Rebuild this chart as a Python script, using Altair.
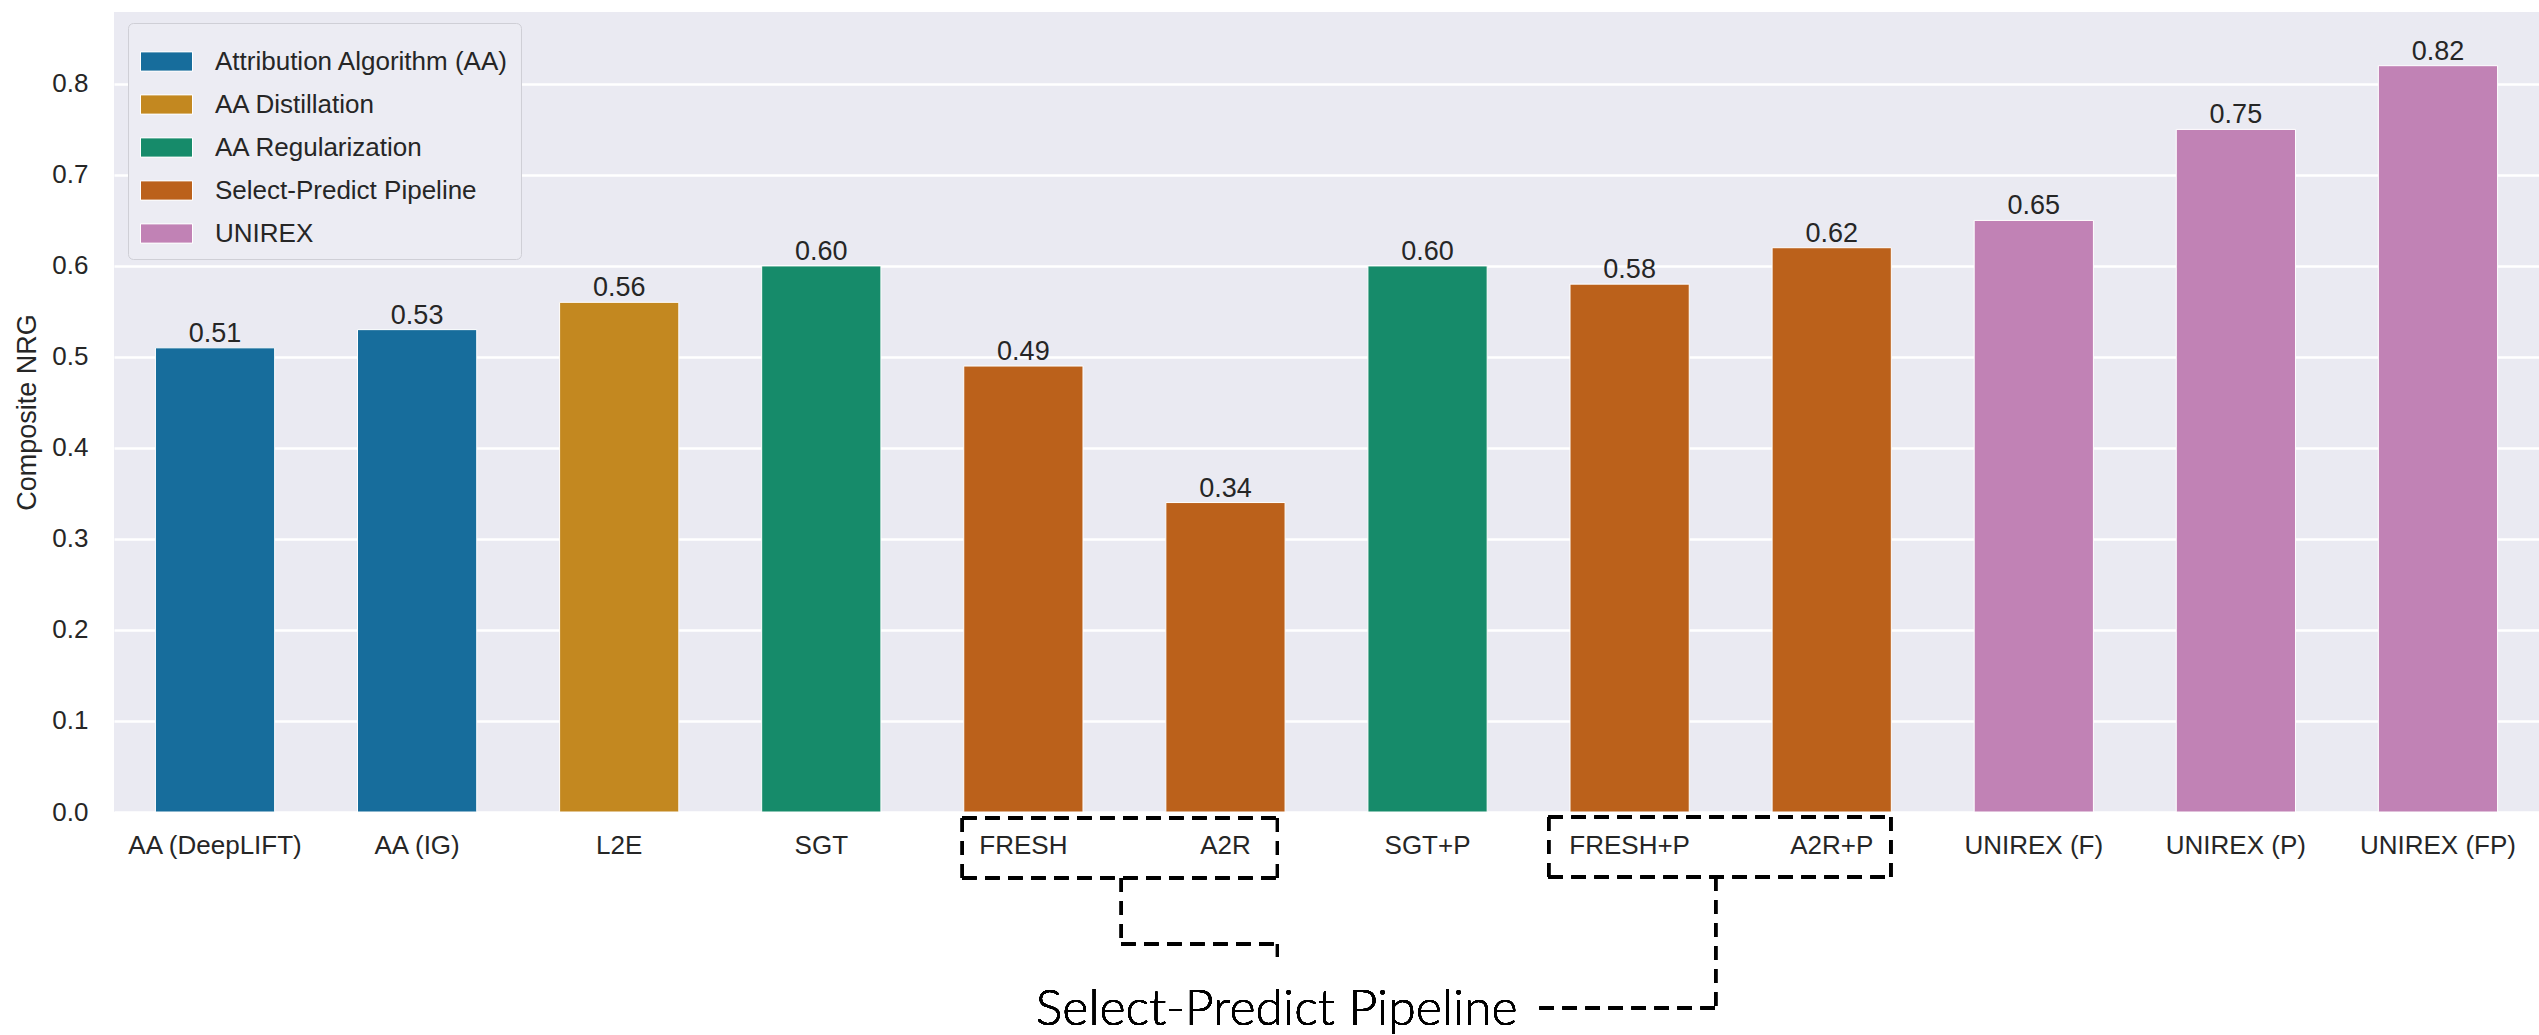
import altair as alt
import pandas as pd

# Composite NRG per rationale-extraction method
methods = [
    "AA (DeepLIFT)", "AA (IG)", "L2E", "SGT", "FRESH", "A2R",
    "SGT+P", "FRESH+P", "A2R+P", "UNIREX (F)", "UNIREX (P)", "UNIREX (FP)",
]
groups = [
    "Attribution Algorithm (AA)", "Attribution Algorithm (AA)",
    "AA Distillation", "AA Regularization",
    "Select-Predict Pipeline", "Select-Predict Pipeline",
    "AA Regularization",
    "Select-Predict Pipeline", "Select-Predict Pipeline",
    "UNIREX", "UNIREX", "UNIREX",
]
scores = [0.51, 0.53, 0.56, 0.60, 0.49, 0.34, 0.60, 0.58, 0.62, 0.65, 0.75, 0.82]

group_order = [
    "Attribution Algorithm (AA)", "AA Distillation", "AA Regularization",
    "Select-Predict Pipeline", "UNIREX",
]
group_colors = ["#176d9c", "#c38820", "#168b6a", "#bb611b", "#c182b5"]
y_ticks = [0.0, 0.1, 0.2, 0.3, 0.4, 0.5, 0.6, 0.7, 0.8]

df = pd.DataFrame({"method": methods, "group": groups, "score": scores})

FONT = "Liberation Sans"
INK = "#262626"
W, H = 2425, 800

x_enc = alt.X(
    "method:N",
    scale=alt.Scale(domain=methods, paddingInner=0.41, paddingOuter=0.205),
    axis=alt.Axis(title=None, labelAngle=0, labelPadding=20, grid=False),
)
y_enc = alt.Y(
    "score:Q",
    scale=alt.Scale(domain=[0, 0.879], nice=False, zero=True),
    axis=alt.Axis(
        title="Composite NRG", values=y_ticks, format=".1f", labelPadding=26,
        titleX=-87, titleY=H / 2, titleAngle=270, titleAlign="center",
        titleBaseline="middle",
    ),
)

bars = alt.Chart(df).mark_bar(stroke="white", strokeWidth=1).encode(
    x=x_enc,
    y=y_enc,
    color=alt.Color(
        "group:N",
        scale=alt.Scale(domain=group_order, range=group_colors),
        legend=alt.Legend(
            title=None, orient="none", legendX=14, legendY=11, direction="vertical",
            symbolType="M-1,-0.37H1V0.37H-1Z", symbolSize=2704,
            symbolStrokeColor="white", symbolStrokeWidth=1,
            labelFont=FONT, labelFontSize=26, labelColor=INK, labelOffset=22,
            labelLimit=600, rowPadding=3, padding=12, fillColor="#ececf3",
            strokeColor="#cfcfd6", cornerRadius=5,
        ),
    ),
)

labels = alt.Chart(df).mark_text(
    baseline="alphabetic", dy=-6, font=FONT, fontSize=27, color=INK
).encode(
    x=alt.X("method:N"),
    y=alt.Y("score:Q"),
    text=alt.Text("score:Q", format=".2f"),
)

# Dashed bracket annotation grouping the select-predict pipeline labels
DASH = dict(color="black", strokeWidth=3, strokeDash=[14, 9])


def hseg(cat_a, off_a, cat_b, off_b, y):
    return alt.Chart(df).mark_rule(xOffset=off_a, x2Offset=off_b, **DASH).encode(
        x=alt.datum(cat_a), x2=alt.datum(cat_b), y=alt.value(y)
    )


def vseg(cat, off, y_a, y_b):
    return alt.Chart(df).mark_rule(xOffset=off, **DASH).encode(
        x=alt.datum(cat), y=alt.value(y_a), y2=alt.value(y_b)
    )


bracket = [
    # box around FRESH / A2R
    hseg("FRESH", -61, "A2R", 52, 806),
    hseg("FRESH", -61, "A2R", 52, 866),
    vseg("FRESH", -61, 806, 866),
    vseg("A2R", 52, 806, 866),
    # elbow connector below it
    vseg("FRESH", 98, 866, 932),
    hseg("FRESH", 98, "A2R", 52, 932),
    vseg("A2R", 52, 932, 945),
    # box around FRESH+P / A2R+P
    hseg("FRESH+P", -81, "A2R+P", 59, 805),
    hseg("FRESH+P", -81, "A2R+P", 59, 865),
    vseg("FRESH+P", -81, 805, 865),
    vseg("A2R+P", 59, 805, 865),
    # connector to the caption
    vseg("FRESH+P", 86, 865, 996),
    hseg("FRESH+P", -90, "FRESH+P", 86, 996),
]

caption = alt.Chart(df).mark_text(
    text="Select-Predict Pipeline", align="right", baseline="alphabetic",
    dx=-112, font="Lato", fontSize=50, fontWeight=300, color="black",
).encode(x=alt.datum("FRESH+P"), y=alt.value(1013))

chart = (
    alt.layer(bars, labels, *bracket, caption)
    .properties(
        width=W, height=H,
        autosize=alt.AutoSizeParams(type="none"),
        padding={"left": 114, "top": 12, "right": 0, "bottom": 223},
        background="white",
    )
    .configure_view(fill="#eaeaf2", strokeWidth=0)
    .configure_axis(
        labelFont=FONT, labelFontSize=26, labelColor=INK,
        titleFont=FONT, titleFontSize=27, titleColor=INK, titleFontWeight="normal",
        ticks=False, domain=False, gridColor="white", gridWidth=2.5,
    )
)

chart.save("out.html", embed_options={"renderer": "svg", "actions": False})
